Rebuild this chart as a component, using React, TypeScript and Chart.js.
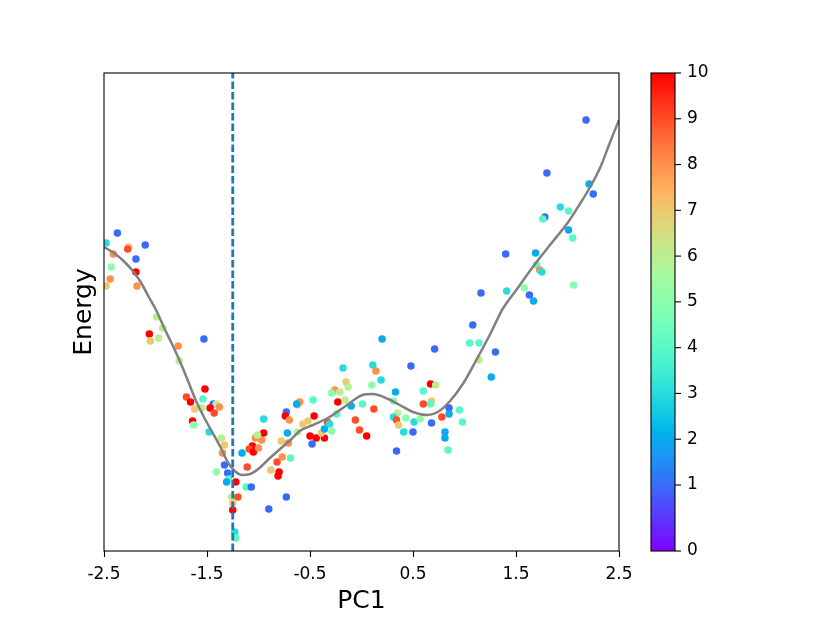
import { useEffect, useRef } from "react"
import { Chart, registerables } from "chart.js"

Chart.register(...registerables)

// scatter samples: PC1, energy, colour value (0-10)
const pcX = [
  -2.37, -2.48, -2.26, -2.27, -2.10, -2.41, -2.19, -2.43, -2.19, -2.44, -2.48, -2.18, -1.99, -1.93, -2.06, -2.05, -1.97, -1.78, -1.53, -1.77,
  -1.52, -1.70, -1.66, -1.54, -1.44, -1.41, -1.38, -1.47, -1.62, -1.55, -1.43, -1.64, -1.63, -1.48, -1.36, -1.33, -1.35, -1.33, -1.41, -1.30,
  -1.29, -1.31, -1.22, -1.12, -1.07, -1.26, -1.20, -1.25, -1.25, -1.23, -1.22, -0.73, -0.90, -0.95, -1.16, -1.03, -1.06, -1.09, -1.05, -1.00,
  -0.97, -0.95, -1.01, -1.11, -0.88, -0.80, -0.81, -0.82, -0.77, -0.69, -0.78, -0.72, -0.71, -0.73, -0.74, -0.70, -0.62, -0.60, -0.63, -0.47,
  -0.62, -0.57, -0.52, -0.46, -0.50, -0.44, -0.36, -0.39, -0.48, -0.36, -0.33, -0.31, -0.29, -0.24, -0.23, -0.16, -0.10, -0.26, -0.29, -0.21,
  -0.18, -0.15, -0.13, 0.11, 0.14, 0.19, 0.10, 0.01, 0.12, -0.06, -0.02, 0.05, 0.20, 0.71, 0.48, 0.67, 0.72, 0.60, 0.33, 0.31,
  0.68, 0.67, 0.60, 0.85, 0.95, 0.85, 0.78, 0.98, 0.35, 0.31, 0.34, 0.36, 0.43, 0.51, 0.57, 0.68, 0.41, 0.50, 0.81, 0.81,
  0.84, 0.34, 1.08, 1.05, 1.14, 1.14, 1.30, 1.26, 1.16, 1.41, 1.58, 1.63, 1.67, 1.40, 1.69, 1.70, 1.73, 1.75, 2.06, 1.78,
  1.76, 1.93, 2.01, 2.01, 2.05, 1.80, 2.21, 2.25, 2.18,
]
const energy = [
  6.36, 6.16, 6.08, 6.04, 6.12, 5.94, 5.84, 5.68, 5.58, 5.44, 5.30, 5.30, 4.68, 4.46, 4.34, 4.20, 4.26, 4.10, 4.24, 3.80,
  3.24, 3.08, 2.98, 3.04, 2.94, 2.94, 2.88, 2.86, 2.84, 2.86, 2.76, 2.60, 2.52, 2.38, 2.26, 2.12, 1.96, 1.72, 1.58, 1.56,
  1.44, 1.38, 1.38, 1.28, 1.28, 1.08, 1.08, 0.96, 0.82, 0.38, 0.26, 1.08, 0.84, 2.64, 1.96, 2.26, 2.10, 2.04, 1.98, 2.06,
  2.22, 2.36, 2.32, 1.68, 1.62, 1.58, 1.50, 1.78, 1.88, 1.86, 2.20, 2.36, 2.16, 2.78, 2.70, 2.62, 2.92, 2.98, 2.94, 3.02,
  2.38, 2.54, 2.60, 2.70, 2.30, 2.26, 2.26, 2.36, 2.14, 2.44, 2.58, 2.54, 2.40, 2.74, 2.98, 3.02, 2.90, 3.22, 3.16, 3.18,
  3.66, 3.38, 3.28, 3.72, 3.60, 3.42, 3.32, 2.94, 2.84, 2.62, 2.42, 2.30, 4.24, 4.04, 3.70, 3.34, 3.32, 3.20, 3.18, 3.00,
  3.00, 2.94, 2.94, 2.86, 2.82, 2.74, 2.68, 2.58, 2.76, 2.68, 2.62, 2.52, 2.66, 2.58, 2.64, 2.56, 2.38, 2.38, 2.38, 2.26,
  2.02, 2.00, 4.52, 4.16, 4.16, 3.82, 3.98, 3.48, 5.16, 5.20, 5.26, 5.12, 5.00, 5.94, 5.96, 5.72, 5.62, 5.58, 5.32, 6.68,
  6.64, 6.88, 6.80, 6.42, 6.26, 7.56, 7.34, 7.14, 8.62,
]
const colorVal = [
  1, 3, 7, 9, 1, 8, 1, 5, 10, 8, 7, 8, 6, 6, 10, 7, 6, 8, 1, 6,
  10, 9, 10, 4, 1, 6, 8, 10, 7, 6, 9, 10, 5, 3, 6, 7, 8, 1, 5, 1,
  4, 2, 10, 4, 1, 6, 9, 7, 10, 3, 4, 1, 1, 3, 2, 8, 10, 9, 10, 8,
  8, 10, 6, 9, 7, 10, 10, 9, 8, 4, 7, 2, 8, 1, 10, 8, 7, 8, 2, 4,
  6, 7, 7, 10, 10, 10, 10, 7, 1, 2, 9, 3, 5, 4, 10, 6, 2, 8, 5, 6,
  3, 7, 6, 3, 8, 3, 5, 4, 9, 9, 9, 10, 2, 1, 1, 10, 6, 4, 2, 5,
  7, 4, 9, 1, 4, 2, 9, 4, 6, 3, 9, 7, 5, 3, 5, 1, 3, 1, 2, 2,
  4, 1, 1, 4, 4, 6, 1, 2, 1, 3, 5, 1, 2, 1, 2, 4, 8, 3, 5, 1,
  4, 3, 4, 2, 4, 1, 2, 1, 1,
]

// smoothed energy profile
const curveX = [
  -2.5, -2.39, -2.30, -2.22, -2.15, -2.07, -1.99, -1.92, -1.84, -1.76, -1.68, -1.61, -1.53, -1.45, -1.37, -1.30, -1.23, -1.16, -1.08, -0.99,
  -0.89, -0.79, -0.69, -0.60, -0.47, -0.31, -0.14, 0.01, 0.11, 0.26, 0.37, 0.50, 0.64, 0.74, 0.86, 0.99, 1.12, 1.25, 1.37, 1.51,
  1.67, 1.83, 2.00, 2.12, 2.22, 2.32, 2.41, 2.5,
]
const curveY = [
  6.08, 5.94, 5.78, 5.60, 5.40, 5.10, 4.80, 4.48, 4.14, 3.78, 3.38, 3.02, 2.68, 2.38, 2.08, 1.78, 1.60, 1.52, 1.54, 1.66,
  1.86, 2.04, 2.22, 2.40, 2.52, 2.68, 2.92, 3.12, 3.14, 3.04, 2.92, 2.78, 2.72, 2.78, 3.00, 3.36, 3.84, 4.34, 4.84, 5.24,
  5.70, 6.12, 6.56, 6.94, 7.28, 7.68, 8.16, 8.62,
]

const xTicks = [-2.5, -1.5, -0.5, 0.5, 1.5, 2.5]
const cbTicks = [0, 1, 2, 3, 4, 5, 6, 7, 8, 9, 10]
const cutoffX = -1.25
const yMin = 0
const yMax = 9.56

// colour bar position of a value: 0..1 is stretched, 1..10 even
function cbPos(v: number) {
  if (v <= 1) return (v * 66) / 478
  return (66 + (v - 1) * 45.78) / 478
}

// matplotlib "rainbow"
function rainbow(p: number) {
  const r = Math.min(1, Math.abs(2 * p - 0.5))
  const g = Math.sin(Math.PI * p)
  const b = Math.cos((Math.PI * p) / 2)
  return `rgb(${Math.round(r * 255)}, ${Math.round(g * 255)}, ${Math.round(b * 255)})`
}

const FONT = "'DejaVu Sans', sans-serif"

const framePlugin = {
  id: "frame",
  afterDatasetsDraw(chart: any) {
    const { ctx, chartArea } = chart
    ctx.save()
    ctx.strokeStyle = "#000"
    ctx.lineWidth = 1.1
    ctx.strokeRect(chartArea.left, chartArea.top, chartArea.right - chartArea.left, chartArea.bottom - chartArea.top)
    ctx.restore()
  },
}

const colorbarPlugin = {
  id: "colorbar",
  afterDraw(chart: any) {
    const { ctx, chartArea } = chart
    const left = chartArea.right + 32
    const w = 24
    const top = chartArea.top
    const bottom = chartArea.bottom
    const h = bottom - top

    const grad = ctx.createLinearGradient(0, bottom, 0, top)
    for (let i = 0; i <= 40; i++) grad.addColorStop(i / 40, rainbow(i / 40))

    ctx.save()
    ctx.fillStyle = grad
    ctx.fillRect(left, top, w, h)
    ctx.strokeStyle = "#000"
    ctx.lineWidth = 1.1
    ctx.strokeRect(left, top, w, h)

    ctx.fillStyle = "#000"
    ctx.font = `17px ${FONT}`
    ctx.textAlign = "left"
    ctx.textBaseline = "middle"
    cbTicks.forEach((t) => {
      const y = bottom - cbPos(t) * h
      ctx.beginPath()
      ctx.moveTo(left + w, y)
      ctx.lineTo(left + w + 6, y)
      ctx.stroke()
      ctx.fillText(String(t), left + w + 12, y)
    })
    ctx.restore()
  },
}

function EnergyChart() {
  const chartRef = useRef<HTMLCanvasElement>(null)
  const chartInstance = useRef<Chart | null>(null)

  useEffect(() => {
    if (!chartRef.current) return
    if (chartInstance.current) chartInstance.current.destroy()

    const points = pcX.map((x, i) => ({ x, y: energy[i] }))
    const pointColors = colorVal.map((v) => rainbow(cbPos(v)))
    const curve = curveX.map((x, i) => ({ x, y: curveY[i] }))

    const ctx = chartRef.current.getContext("2d")
    if (!ctx) return

    chartInstance.current = new Chart(ctx, {
      type: "scatter",
      data: {
        datasets: [
          {
            label: "samples",
            data: points,
            backgroundColor: pointColors,
            pointBackgroundColor: pointColors,
            pointRadius: 3.75,
            pointBorderWidth: 0,
            order: 3,
          },
          {
            label: "profile",
            data: curve,
            showLine: true,
            borderColor: "#808080",
            borderWidth: 2.5,
            pointRadius: 0,
            cubicInterpolationMode: "monotone",
            fill: false,
            order: 2,
          },
          {
            label: "cutoff",
            data: [
              { x: cutoffX, y: yMin },
              { x: cutoffX, y: yMax },
            ],
            showLine: true,
            borderColor: "#1f77b4",
            borderWidth: 2.8,
            borderDash: [7.5, 3],
            pointRadius: 0,
            fill: false,
            order: 1,
          },
        ],
      },
      options: {
        responsive: false,
        animation: false,
        layout: { padding: { top: 73, right: 211, left: 0, bottom: 0 } },
        scales: {
          x: {
            type: "linear",
            min: -2.5,
            max: 2.5,
            afterBuildTicks: (scale: any) => {
              scale.ticks = xTicks.map((v) => ({ value: v }))
            },
            afterFit: (scale: any) => {
              scale.height = 71
            },
            ticks: {
              color: "#000",
              font: { family: FONT, size: 17 },
              padding: 7,
              maxRotation: 0,
              autoSkip: false,
              callback: (value: any) => Number(value).toFixed(1),
            },
            grid: {
              drawOnChartArea: false,
              drawTicks: true,
              tickLength: 6,
              tickColor: "#000",
              tickWidth: 1.1,
            },
            border: { display: false },
            title: {
              display: true,
              text: "PC1",
              color: "#000",
              font: { family: FONT, size: 25 },
              padding: { top: 0, bottom: 6 },
            },
          },
          y: {
            type: "linear",
            min: yMin,
            max: yMax,
            afterFit: (scale: any) => {
              scale.width = 104
            },
            ticks: { display: false },
            grid: { display: false },
            border: { display: false },
            title: {
              display: true,
              text: "Energy",
              color: "#000",
              font: { family: FONT, size: 25 },
              padding: { top: 69, bottom: 0 },
            },
          },
        },
        plugins: {
          legend: { display: false },
          tooltip: { enabled: false },
        },
      },
      plugins: [framePlugin, colorbarPlugin],
    })

    return () => {
      if (chartInstance.current) {
        chartInstance.current.destroy()
        chartInstance.current = null
      }
    }
  }, [])

  return <canvas ref={chartRef} width={830} height={622} />
}

export default function App() {
  return (
    <div style={{ position: "absolute", left: 0, top: 0, width: 830, height: 622, background: "#fff" }}>
      <EnergyChart />
    </div>
  )
}
